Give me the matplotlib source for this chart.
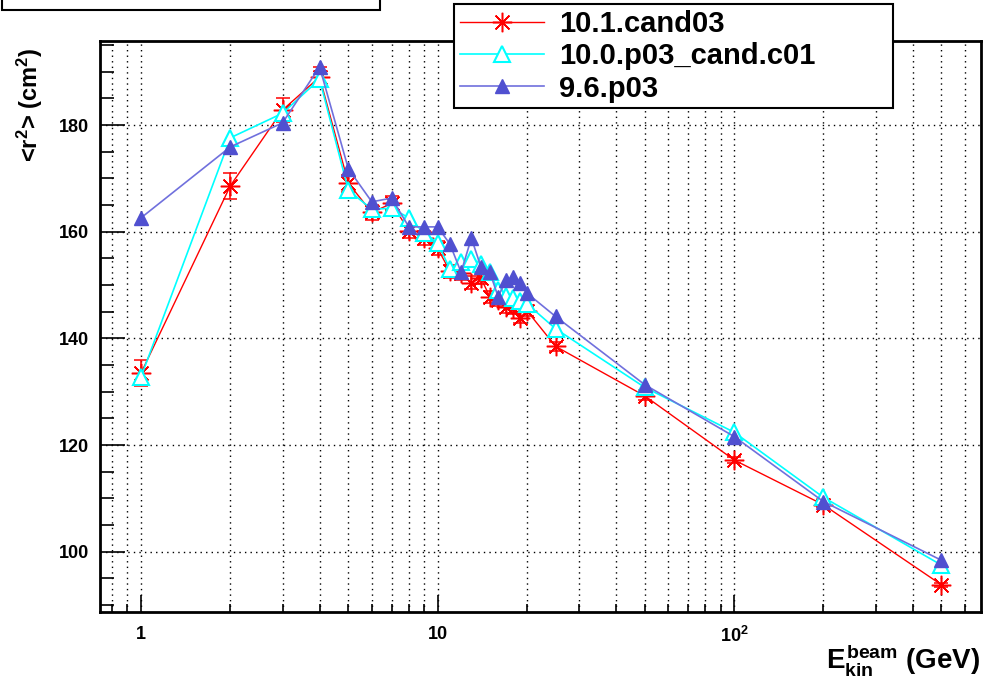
import matplotlib
matplotlib.use("Agg")
import matplotlib.pyplot as plt
from matplotlib.lines import Line2D
from matplotlib.patches import Rectangle
from matplotlib.ticker import FixedLocator, FixedFormatter, MultipleLocator, NullFormatter

plt.rcParams["font.family"] = ["Liberation Sans", "DejaVu Sans"]
plt.rcParams["font.weight"] = "bold"
plt.rcParams["mathtext.fontset"] = "custom"
plt.rcParams["mathtext.rm"] = "Liberation Sans:bold"
plt.rcParams["mathtext.it"] = "Liberation Sans:bold"
plt.rcParams["mathtext.bf"] = "Liberation Sans:bold"

# beam kinetic energies (GeV)
energy = [1, 2, 3, 4, 5, 6, 7, 8, 9, 10, 11, 12, 13, 14, 15, 16, 17, 18, 19, 20,
          25, 50, 100, 200, 500]

# <r^2> (cm^2) per release
r2_cand03 = [133.5, 168.6, 182.8, 189.0, 169.1, 163.6, 165.3, 160.2, 158.8, 156.9,
             152.6, 152.2, 150.4, 151.3, 147.8, 147.2, 145.9, 145.7, 143.9, 145.2,
             138.5, 129.2, 117.2, 108.8, 93.8]
r2_cand03_err = [2.5, 2.4, 2.2, 1.8, 1.6, 1.4, 1.4, 1.3, 1.3, 1.3,
                 1.2, 1.2, 1.2, 1.2, 1.1, 1.1, 1.1, 1.1, 1.1, 1.0,
                 0.9, 0.7, 0.6, 0.5, 0.4]
r2_p03_c01 = [132.8, 177.6, 182.2, 188.6, 167.8, 164.2, 164.4, 162.6, 159.8, 157.9,
              153.0, 154.3, 154.8, 154.0, 152.4, 149.0, 148.0, 147.6, 147.0, 146.5,
              141.8, 130.8, 122.4, 110.2, 97.5]
r2_96p03 = [162.6, 175.9, 180.4, 190.9, 171.8, 165.6, 166.3, 160.9, 160.9, 160.9,
            157.7, 152.4, 158.8, 153.4, 152.4, 147.8, 150.9, 151.5, 150.4, 148.5,
            144.1, 131.3, 121.6, 109.4, 98.4]

labels = ["10.1.cand03", "10.0.p03_cand.c01", "9.6.p03"]

RED, CYAN = "#ff0000", "#00ffff"
BLUE_LINE, BLUE_MARK = "#7070dd", "#5050d0"
star = (8, 2, 0)

fig = plt.figure(figsize=(9.96, 6.85), dpi=100)
ax = fig.add_axes([100 / 996, 1 - 612 / 685, 881 / 996, 571 / 685])

ax.errorbar(energy, r2_cand03, yerr=r2_cand03_err, color=RED, lw=1,
            marker=star, ms=14, mew=1.1, capsize=5, elinewidth=1.1,
            capthick=1.1, zorder=3)
ax.plot(energy, r2_p03_c01, color=CYAN, lw=1.2, marker="^", ms=11,
        mfc="white", mec=CYAN, mew=1.5, zorder=4)
ax.plot(energy, r2_96p03, color=BLUE_LINE, lw=1.2, marker="^", ms=10,
        mfc=BLUE_MARK, mec=BLUE_MARK, zorder=5)

ax.set_xscale("log")
ax.set_xlim(0.727, 680)
ax.set_ylim(88.7, 195.75)

ax.xaxis.set_major_locator(FixedLocator([1, 10, 100]))
ax.xaxis.set_major_formatter(FixedFormatter(["1", "10", r"$10^{2}$"]))
minor_x = [m * 10 ** k for k in range(-1, 3) for m in range(2, 10)]
ax.xaxis.set_minor_locator(FixedLocator(minor_x))
ax.xaxis.set_minor_formatter(NullFormatter())
ax.yaxis.set_major_locator(MultipleLocator(20))
ax.yaxis.set_minor_locator(MultipleLocator(5))

ax.tick_params(axis="both", which="both", direction="in", top=False, right=False,
               labelsize=13, width=1.2)
ax.tick_params(axis="x", which="major", length=12, pad=10)
ax.tick_params(axis="x", which="minor", length=6)
ax.tick_params(axis="y", which="major", length=18, pad=8)
ax.tick_params(axis="y", which="minor", length=10)
for lbl in ax.get_xticklabels() + ax.get_yticklabels():
    lbl.set_fontweight("bold")

ax.grid(axis="x", which="both", color="black", ls=(0, (1, 3)), lw=1)
ax.grid(axis="y", which="major", color="black", ls=(0, (1, 3)), lw=1)
for sp in ax.spines.values():
    sp.set_linewidth(2)

fig.text(30 / 996, 1 - 48 / 685, r"<r$^{2}$> (cm$^{2}$)", fontsize=17,
         fontweight="bold", rotation=90, ha="center", va="top")
fig.text(0.984, 0.036, r"$E_{kin}^{beam}$ (GeV)", fontsize=20, fontweight="bold",
         ha="right", va="center")

handles = [
    Line2D([], [], color=RED, lw=1, marker=star, ms=14, mew=1.1),
    Line2D([], [], color=CYAN, lw=1.2, marker="^", ms=11, mfc="white",
           mec=CYAN, mew=1.5),
    Line2D([], [], color=BLUE_LINE, lw=1.2, marker="^", ms=10, mfc=BLUE_MARK,
           mec=BLUE_MARK),
]
leg = ax.legend(handles=handles, labels=labels, loc="upper left",
                bbox_to_anchor=(454 / 996, 1 - 110 / 685, 439 / 996, 106 / 685),
                bbox_transform=fig.transFigure, mode="expand", borderaxespad=0,
                fancybox=False, framealpha=1, edgecolor="black",
                handlelength=2.9, handletextpad=0.5, labelspacing=0.15,
                borderpad=0.2, prop={"weight": "bold", "size": 21})
leg.get_frame().set_linewidth(1.5)
leg.set_zorder(10)

# partially visible title box in the upper left corner
fig.patches.append(Rectangle((2 / 996, 1 - 10 / 685), 378 / 996, 40 / 685,
                             transform=fig.transFigure, facecolor="white",
                             edgecolor="black", lw=1.5))

fig.savefig("out.png", dpi=100)
